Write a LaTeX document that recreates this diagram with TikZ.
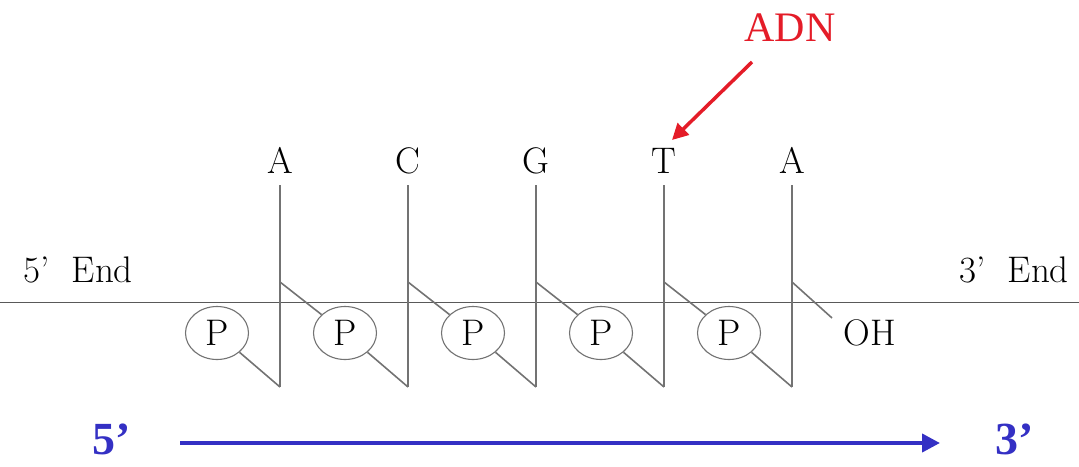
\documentclass[tikz,border=0pt]{standalone}
\usepackage{fontspec}
\newfontfamily\timesf{Liberation Serif}
\usetikzlibrary{shapes.geometric,arrows.meta}
\definecolor{dnared}{RGB}{228,28,40}
\definecolor{dnablue}{RGB}{52,48,196}
\definecolor{strand}{RGB}{115,115,115}
\tikzset{
  phos/.style={ellipse, draw=strand, line width=1.1pt, minimum width=63pt, minimum height=53pt, inner sep=0pt, font=\fontsize{37}{40}\selectfont},
  bb/.style={draw=strand, line width=1.6pt},
  lbl/.style={font=\fontsize{37}{40}\selectfont, inner sep=0pt, anchor=base},
  endlbl/.style={font=\timesf\bfseries\fontsize{46}{50}\selectfont, text=dnablue, inner sep=0pt, anchor=base},
}
\begin{document}
\begin{tikzpicture}[x=1pt,y=-1pt]
\useasboundingbox (0,0) rectangle (1079,466);
% axis line
\coordinate (L) at (0,302);
\coordinate (R) at (1079,302);
\draw[line width=1pt, draw=black!65] (L) -- (R);
% end labels
\node[lbl] (e5) at (78,282) {5'\ \ End};
\node[lbl] (e3) at (1014,282) {3'\ \ End};
% bases and strands
\foreach \i/\b/\x in {1/A/280,2/C/408,3/G/536,4/T/664,5/A/792}{
  \node[lbl] (b\i) at (\x,173) {\b};
  \coordinate (t\i) at (\x,185);
  \coordinate (s\i) at (\x,282);
  \coordinate (d\i) at (\x,387);
  \draw[bb] (t\i) -- (d\i);
}
% phosphates
\foreach \i/\x in {1/217,2/345,3/473,4/601,5/729}{
  \node[phos] (p\i) at (\x,333) {P};
}
\draw[bb] (p1) -- (d1);
\draw[bb] (p2) -- (d2);
\draw[bb] (p3) -- (d3);
\draw[bb] (p4) -- (d4);
\draw[bb] (p5) -- (d5);
\draw[bb] (s1) -- (p2);
\draw[bb] (s2) -- (p3);
\draw[bb] (s3) -- (p4);
\draw[bb] (s4) -- (p5);
\node[lbl] (oh) at (870,345) {OH};
\coordinate (ohend) at (832,318);
\draw[bb] (s5) -- (ohend);
% ADN label
\node[font=\timesf\fontsize{42}{46}\selectfont, text=dnared, inner sep=0pt, anchor=base] (adn) at (790,41) {ADN};
\coordinate (aS) at (752,62);
\coordinate (aE) at (672,140);
\draw[dnared, line width=3.5pt, -{Triangle[length=16pt,width=16pt]}] (aS) -- (aE);
% direction arrow
\node[endlbl] (f5) at (112,454) {5’};
\node[endlbl] (f3) at (1015,454) {3’};
\coordinate (bS) at (180,443);
\coordinate (bE) at (940,443);
\draw[dnablue, line width=4pt, -{Triangle[length=18pt,width=18pt]}] (bS) -- (bE);
\end{tikzpicture}
\end{document}
